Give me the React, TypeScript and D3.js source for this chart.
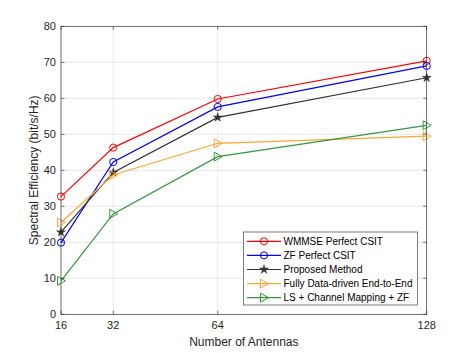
import React, { useEffect, useRef } from 'react';
import * as d3 from 'd3';

// number of antennas
const antennas = [16, 32, 64, 128];

const wmmse = [32.7, 46.3, 59.8, 70.4];
const zfPerfect = [19.9, 42.3, 57.6, 69.0];
const proposed = [22.8, 39.4, 54.7, 65.7];
const fullyDataDriven = [25.5, 38.7, 47.5, 49.5];
const lsMapping = [9.3, 27.9, 43.8, 52.5];

const yTicks = [0, 10, 20, 30, 40, 50, 60, 70, 80];

const seriesList = [
  { name: 'WMMSE Perfect CSIT', values: wmmse, color: '#ff0000', marker: 'circle' },
  { name: 'ZF Perfect CSIT', values: zfPerfect, color: '#0000ff', marker: 'circle' },
  { name: 'Proposed Method', values: proposed, color: '#333333', marker: 'star' },
  { name: 'Fully Data-driven End-to-End', values: fullyDataDriven, color: '#ffa533', marker: 'triangle' },
  { name: 'LS + Channel Mapping + ZF', values: lsMapping, color: '#33993a', marker: 'triangle' },
];

const App = () => {
  const svgRef = useRef<SVGSVGElement>(null);

  useEffect(() => {
    const svg = d3.select(svgRef.current);
    svg.selectAll('*').remove();

    const width = 471;
    const height = 353;
    const margin = { top: 26.3, right: 44.3, bottom: 38.7, left: 61 };
    const font = 'Liberation Sans, Arial, sans-serif';
    const axisColor = '#262626';

    const x = d3.scaleLinear().domain([16, 128]).range([margin.left, width - margin.right]);
    const y = d3.scaleLinear().domain([0, 80]).range([height - margin.bottom, margin.top]);

    const x0 = margin.left, x1 = width - margin.right;
    const y0 = height - margin.bottom, y1 = margin.top;

    svg.append('rect').attr('x', x0).attr('y', y1).attr('width', x1 - x0).attr('height', y0 - y1).attr('fill', 'white');

    // grid
    const grid = svg.append('g');
    yTicks.forEach(t => {
      grid.append('line').attr('x1', x0).attr('x2', x1).attr('y1', y(t)).attr('y2', y(t))
        .attr('stroke', '#e3e3e3').attr('stroke-width', 0.8);
    });
    antennas.forEach(t => {
      grid.append('line').attr('x1', x(t)).attr('x2', x(t)).attr('y1', y0).attr('y2', y1)
        .attr('stroke', '#e3e3e3').attr('stroke-width', 0.8);
    });

    // lines and markers
    const line = d3.line<number>().x((d, i) => x(antennas[i])).y(d => y(d));
    const star = d3.symbol().type(d3.symbolStar).size(26)();
    const tri = 'M-3.5,-4.5L4.5,0L-3.5,4.5Z';

    const drawMarker = (g: any, kind: string, cx: number, cy: number, color: string) => {
      if (kind === 'circle') {
        g.append('circle').attr('cx', cx).attr('cy', cy).attr('r', 3.6)
          .attr('fill', 'none').attr('stroke', color).attr('stroke-width', 1);
      } else if (kind === 'star') {
        g.append('path').attr('d', star).attr('transform', `translate(${cx},${cy})`)
          .attr('fill', color).attr('stroke', color).attr('stroke-width', 0.4);
      } else {
        g.append('path').attr('d', tri).attr('transform', `translate(${cx},${cy})`)
          .attr('fill', 'none').attr('stroke', color).attr('stroke-width', 1);
      }
    };

    seriesList.forEach(s => {
      const g = svg.append('g');
      g.append('path').datum(s.values).attr('d', line).attr('fill', 'none')
        .attr('stroke', s.color).attr('stroke-width', 1.2);
      s.values.forEach((v, i) => drawMarker(g, s.marker, x(antennas[i]), y(v), s.color));
    });

    // axes box
    svg.append('rect').attr('x', x0).attr('y', y1).attr('width', x1 - x0).attr('height', y0 - y1)
      .attr('fill', 'none').attr('stroke', axisColor).attr('stroke-width', 0.6);

    // inner ticks
    const ticks = svg.append('g').attr('stroke', axisColor).attr('stroke-width', 0.6);
    yTicks.forEach(t => {
      ticks.append('line').attr('x1', x0).attr('x2', x0 + 3.5).attr('y1', y(t)).attr('y2', y(t));
      ticks.append('line').attr('x1', x1).attr('x2', x1 - 3.5).attr('y1', y(t)).attr('y2', y(t));
    });
    antennas.forEach(t => {
      ticks.append('line').attr('x1', x(t)).attr('x2', x(t)).attr('y1', y0).attr('y2', y0 - 3.5);
      ticks.append('line').attr('x1', x(t)).attr('x2', x(t)).attr('y1', y1).attr('y2', y1 + 3.5);
    });

    // tick labels
    yTicks.forEach(t => {
      svg.append('text').attr('x', x0 - 5).attr('y', y(t)).attr('dy', '0.35em')
        .attr('text-anchor', 'end').attr('font-family', font).attr('font-size', 11)
        .attr('fill', axisColor).text(t);
    });
    antennas.forEach(t => {
      svg.append('text').attr('x', x(t)).attr('y', y0 + 15).attr('text-anchor', 'middle')
        .attr('font-family', font).attr('font-size', 11).attr('fill', axisColor).text(t);
    });

    // axis titles
    svg.append('text').attr('x', (x0 + x1) / 2).attr('y', 346).attr('text-anchor', 'middle')
      .attr('font-family', font).attr('font-size', 12).attr('fill', axisColor).text('Number of Antennas');
    svg.append('text').attr('transform', `translate(38,${(y0 + y1) / 2}) rotate(-90)`)
      .attr('text-anchor', 'middle').attr('font-family', font).attr('font-size', 12)
      .attr('fill', axisColor).text('Spectral Efficiency (bit/s/Hz)');

    // legend
    const lg = svg.append('g');
    lg.append('rect').attr('x', 243.5).attr('y', 232).attr('width', 174).attr('height', 73)
      .attr('fill', 'white').attr('stroke', '#262626').attr('stroke-width', 0.6);
    seriesList.forEach((s, i) => {
      const ry = 241.3 + i * 14.1;
      lg.append('line').attr('x1', 247).attr('x2', 281).attr('y1', ry).attr('y2', ry)
        .attr('stroke', s.color).attr('stroke-width', 1.2);
      drawMarker(lg, s.marker, 264, ry, s.color);
      lg.append('text').attr('x', 283.5).attr('y', ry).attr('dy', '0.35em')
        .attr('font-family', font).attr('font-size', 10).attr('fill', '#000').text(s.name);
    });
  }, []);

  return (
    <svg ref={svgRef} width={471} height={353} style={{ position: 'absolute', left: 0, top: 0 }}></svg>
  );
};

export default App;
